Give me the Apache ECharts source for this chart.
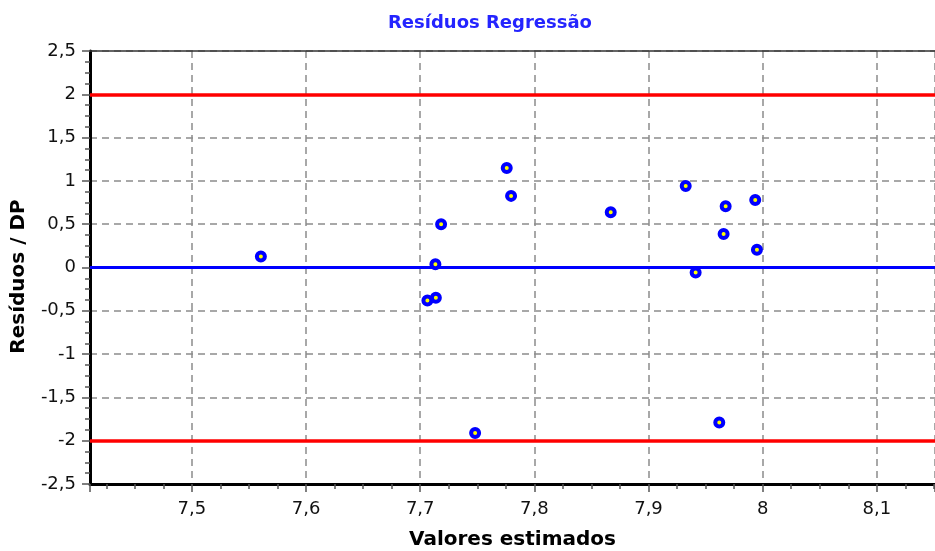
<!DOCTYPE html>
<html>
<head>
<meta charset="utf-8">
<script src="https://cdn.jsdelivr.net/npm/echarts@6/dist/echarts.min.js"></script>
<style>
html,body{margin:0;padding:0;background:#fff;}
#chart{width:935px;height:551px;}
</style>
</head>
<body>
<div id="chart"></div>
<script>
// Data
const fittedValues = [7.5604, 7.7063, 7.7137, 7.7133, 7.7183, 7.7481, 7.7758, 7.7796, 7.8669, 7.9326, 7.9413, 7.9620, 7.9658, 7.9676, 7.9935, 7.9950];
const residualsSD  = [0.127, -0.380, -0.349, 0.038, 0.499, -1.910, 1.149, 0.827, 0.637, 0.942, -0.058, -1.790, 0.388, 0.707, 0.780, 0.204];
const limitLines = [2, -2];
const zeroLine = 0;
const xRange = [7.4107, 8.151];
const yRange = [-2.5, 2.5];

const points = fittedValues.map((x, i) => [x, residualsSD[i]]);
const fmt = v => String(Number(v.toFixed(3))).replace('.', ',');
const FONT = 'DejaVu Sans';

const chart = echarts.init(document.getElementById('chart'), null, {renderer: 'canvas'});
chart.setOption({
  animation: false,
  backgroundColor: '#ffffff',
  title: {
    text: 'Resíduos Regressão',
    left: 485,
    textAlign: 'center',
    top: 9,
    textStyle: {color: '#2424ff', fontFamily: FONT, fontWeight: 'bold', fontSize: 18}
  },
  grid: {left: 90, right: 0, top: 51, bottom: 67, containLabel: false, outerBoundsMode: 'none'},
  xAxis: [{
    type: 'value',
    min: xRange[0], max: xRange[1],
    splitNumber: 7,
    name: 'Valores estimados',
    nameLocation: 'middle',
    nameGap: 46,
    nameTextStyle: {color: '#000', fontFamily: FONT, fontWeight: 'bold', fontSize: 20},
    axisLine: {show: true, onZero: false, lineStyle: {color: '#000', width: 3}},
    axisTick: {show: true, inside: false, length: 8, lineStyle: {color: '#555', width: 1.5}},
    minorTick: {show: true, splitNumber: 4, length: 5, lineStyle: {color: '#555', width: 1.5}},
    axisLabel: {
      show: true, margin: 16, color: '#111', fontFamily: FONT, fontSize: 18,
      showMinLabel: false, showMaxLabel: false, formatter: fmt
    },
    splitLine: {show: true, lineStyle: {color: '#8c8c8c', width: 1.5, type: [7, 5]}}
  }, {
    type: 'value',
    position: 'top',
    min: xRange[0], max: xRange[1],
    axisLine: {show: true, onZero: false, lineStyle: {color: '#333', width: 1.5}},
    axisTick: {show: false},
    axisLabel: {show: false},
    splitLine: {show: false}
  }],
  yAxis: {
    type: 'value',
    min: yRange[0], max: yRange[1],
    interval: 0.5,
    name: 'Resíduos / DP',
    nameLocation: 'middle',
    nameGap: 61,
    nameTextStyle: {color: '#000', fontFamily: FONT, fontWeight: 'bold', fontSize: 20, padding: [0, 18, 0, 0]},
    axisLine: {show: true, onZero: false, lineStyle: {color: '#000', width: 3}},
    axisTick: {show: true, inside: false, length: 8, lineStyle: {color: '#555', width: 1.5}},
    minorTick: {show: true, splitNumber: 4, length: 5, lineStyle: {color: '#555', width: 1.5}},
    axisLabel: {show: true, margin: 14, color: '#111', fontFamily: FONT, fontSize: 18, formatter: fmt},
    splitLine: {show: true, lineStyle: {color: '#8c8c8c', width: 1.5, type: [7, 5]}}
  },
  series: [{
    type: 'line',
    data: [],
    z: 1,
    silent: true,
    markLine: {
      silent: true,
      symbol: ['none', 'none'],
      label: {show: false},
      animation: false,
      data: limitLines.map(v => ({yAxis: v, lineStyle: {color: '#ff0000', width: 3.5, type: 'solid'}}))
        .concat([{yAxis: zeroLine, lineStyle: {color: '#0000ff', width: 3, type: 'solid'}}])
    }
  }, {
    type: 'scatter',
    data: points,
    z: 5,
    symbol: 'circle',
    symbolSize: 8,
    itemStyle: {color: '#ffff00', borderColor: '#0000ff', borderWidth: 4, opacity: 1}
  }]
});
</script>
</body>
</html>
